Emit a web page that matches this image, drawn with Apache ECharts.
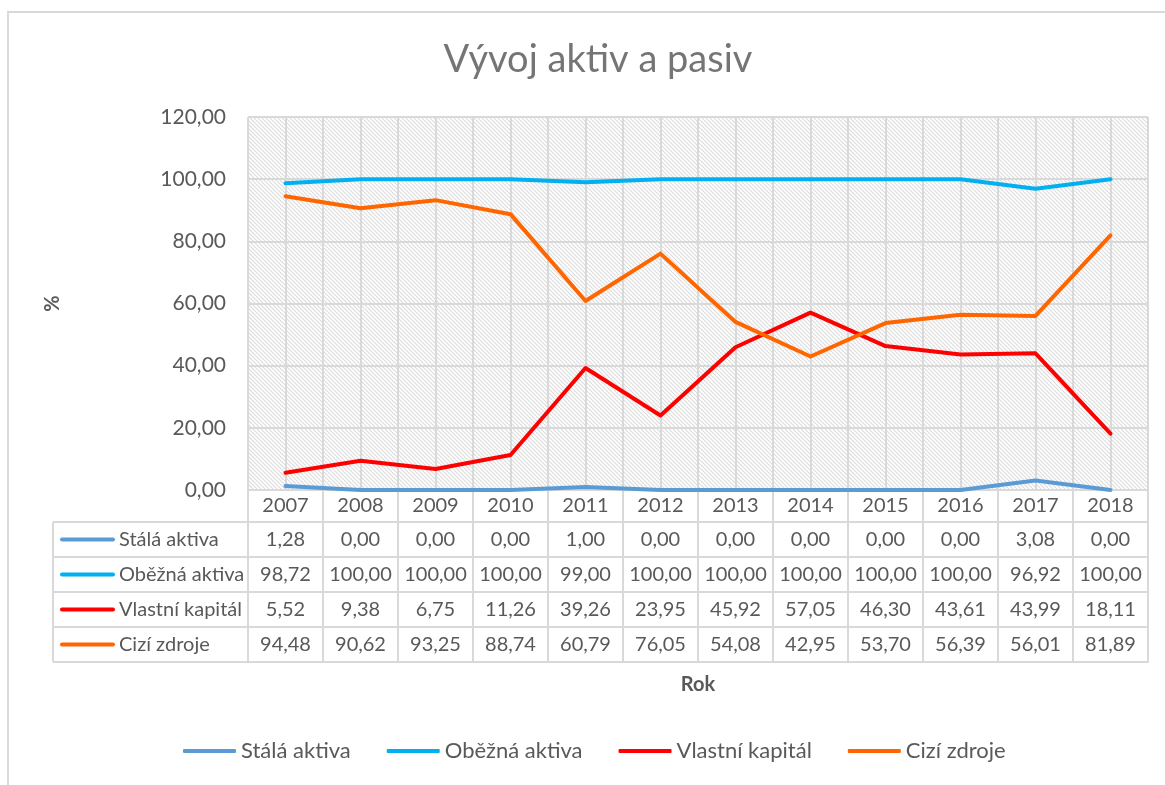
<!DOCTYPE html>
<html>
<head>
<meta charset="utf-8">
<script src="https://cdn.jsdelivr.net/npm/echarts@6/dist/echarts.min.js"></script>
<style>
  html, body { margin: 0; padding: 0; background: #fff; }
  #chart { width: 1165px; height: 785px; }
</style>
</head>
<body>
<div id="chart"></div>
<script>
var years = ['2007', '2008', '2009', '2010', '2011', '2012', '2013', '2014', '2015', '2016', '2017', '2018'];
var stalaAktiva = [1.28, 0.00, 0.00, 0.00, 1.00, 0.00, 0.00, 0.00, 0.00, 0.00, 3.08, 0.00];
var obeznaAktiva = [98.72, 100.00, 100.00, 100.00, 99.00, 100.00, 100.00, 100.00, 100.00, 100.00, 96.92, 100.00];
var vlastniKapital = [5.52, 9.38, 6.75, 11.26, 39.26, 23.95, 45.92, 57.05, 46.30, 43.61, 43.99, 18.11];
var ciziZdroje = [94.48, 90.62, 93.25, 88.74, 60.79, 76.05, 54.08, 42.95, 53.70, 56.39, 56.01, 81.89];

var seriesNames = ['Stálá aktiva', 'Oběžná aktiva', 'Vlastní kapitál', 'Cizí zdroje'];
var seriesData = [stalaAktiva, obeznaAktiva, vlastniKapital, ciziZdroje];
var colors = ['#5B9BD5', '#00B0F0', '#FF0000', '#FF6600'];

var FONT = 'Lato, "Open Sans", sans-serif';
var TXT = '#595959';
var LINE = '#d9d9d9';

function fmt(v) {
  return v.toFixed(2).replace('.', ',');
}

// diagonal hatch for the plot area
function hatch() {
  var c = document.createElement('canvas');
  c.width = 8; c.height = 8;
  var ctx = c.getContext('2d');
  ctx.fillStyle = '#ffffff';
  ctx.fillRect(0, 0, 8, 8);
  ctx.strokeStyle = '#dcdcdc';
  ctx.lineWidth = 1.1;
  for (var o = -8; o <= 8; o += 4) {
    ctx.beginPath();
    ctx.moveTo(o, 0);
    ctx.lineTo(o + 8, 8);
    ctx.stroke();
  }
  return c;
}

var gridLeft = 248, gridTop = 117, gridRight = 1148, gridBottom = 490;
var headH = 32, rowH = 35;

var xAxes = [{
  type: 'category',
  data: years,
  position: 'bottom',
  axisLine: { show: true, lineStyle: { color: LINE, width: 2 } },
  axisTick: { show: true, length: headH, interval: 0, lineStyle: { color: LINE, width: 2 } },
  splitLine: { show: true, interval: 0, lineStyle: { color: LINE, width: 2 } },
  axisLabel: {
    interval: 0, margin: headH / 2, verticalAlign: 'middle',
    color: TXT, fontSize: 20, fontFamily: FONT
  }
}];

seriesData.forEach(function (arr, i) {
  xAxes.push({
    type: 'category',
    data: years,
    position: 'bottom',
    offset: headH + rowH * i,
    axisLine: { show: true, lineStyle: { color: LINE, width: 2 } },
    axisTick: { show: true, length: rowH, interval: 0, lineStyle: { color: LINE, width: 2 } },
    splitLine: { show: false },
    axisLabel: {
      interval: 0, margin: rowH / 2, verticalAlign: 'middle',
      color: TXT, fontSize: 20, fontFamily: FONT,
      formatter: function (val, idx) { return fmt(arr[idx]); }
    }
  });
});

// bottom border of the table + axis title
xAxes.push({
  type: 'category',
  data: years,
  position: 'bottom',
  offset: headH + rowH * 4,
  axisLine: { show: true, lineStyle: { color: LINE, width: 2 } },
  axisTick: { show: false },
  axisLabel: { show: false },
  name: 'Rok',
  nameLocation: 'middle',
  nameGap: 23,
  nameTextStyle: { color: TXT, fontSize: 20, fontWeight: 'bold', fontFamily: FONT, verticalAlign: 'middle' }
});

// extra vertical gridlines at category centres
xAxes.push({
  type: 'value',
  min: 0, max: years.length, interval: 0.5,
  show: true,
  axisLine: { show: false },
  axisTick: { show: false },
  axisLabel: { show: false },
  splitLine: { show: true, lineStyle: { color: LINE, width: 2 } }
});

var series = seriesNames.map(function (name, i) {
  return {
    name: name,
    type: 'line',
    data: seriesData[i],
    xAxisIndex: 0,
    yAxisIndex: 0,
    showSymbol: false,
    symbol: 'none',
    clip: false,
    lineStyle: { width: 4, color: colors[i], cap: 'round', join: 'round' },
    itemStyle: { color: colors[i] },
    z: 3 + i
  };
});

// left column of the data table
var graphics = [{
  type: 'rect',
  shape: { x: 8, y: 12, width: 1200, height: 800 },
  style: { fill: 'none', stroke: LINE, lineWidth: 2 },
  silent: true
}];
var tLeft = 53;
var tTop = gridBottom + headH;
for (var r = 0; r <= 4; r++) {
  graphics.push({
    type: 'line',
    shape: { x1: tLeft, y1: tTop + rowH * r, x2: gridLeft, y2: tTop + rowH * r },
    style: { stroke: LINE, lineWidth: 2 }
  });
}
graphics.push({
  type: 'line',
  shape: { x1: tLeft, y1: tTop, x2: tLeft, y2: tTop + rowH * 4 },
  style: { stroke: LINE, lineWidth: 2 }
});
seriesNames.forEach(function (name, i) {
  var cy = tTop + rowH * i + rowH / 2;
  graphics.push({
    type: 'line',
    shape: { x1: 62, y1: cy, x2: 113, y2: cy },
    style: { stroke: colors[i], lineWidth: 4, lineCap: 'round' }
  });
  graphics.push({
    type: 'text',
    x: 119, y: cy,
    style: { text: name, fill: TXT, font: '20px ' + FONT, textVerticalAlign: 'middle', verticalAlign: 'middle' }
  });
});

var chart = echarts.init(document.getElementById('chart'));
chart.setOption({
  backgroundColor: '#ffffff',
  animation: false,
  title: {
    text: 'Vývoj aktiv a pasiv',
    left: 593,
    textAlign: 'center',
    top: 36,
    textStyle: { color: '#757575', fontSize: 38, fontWeight: 'normal', fontFamily: FONT }
  },
  legend: {
    data: seriesNames,
    left: 183,
    top: 740,
    padding: 0,
    icon: 'roundRect',
    itemWidth: 53,
    itemHeight: 4,
    itemGap: 36,
    textStyle: { color: TXT, fontSize: 22, fontFamily: FONT }
  },
  grid: {
    left: gridLeft,
    top: gridTop,
    right: 1165 - gridRight,
    bottom: 785 - gridBottom,
    show: true,
    borderWidth: 0,
    backgroundColor: { image: hatch(), repeat: 'repeat' }
  },
  xAxis: xAxes,
  yAxis: {
    type: 'value',
    min: 0, max: 120, interval: 20,
    axisLine: { show: false },
    axisTick: { show: false },
    axisLabel: { margin: 22, color: TXT, fontSize: 21, fontFamily: FONT, formatter: fmt },
    splitLine: { show: true, lineStyle: { color: LINE, width: 2 } },
    name: '%',
    nameLocation: 'middle',
    nameGap: 185,
    nameTextStyle: { color: TXT, fontSize: 20, fontWeight: 'bold', fontFamily: FONT }
  },
  graphic: graphics,
  series: series
});
</script>
</body>
</html>
